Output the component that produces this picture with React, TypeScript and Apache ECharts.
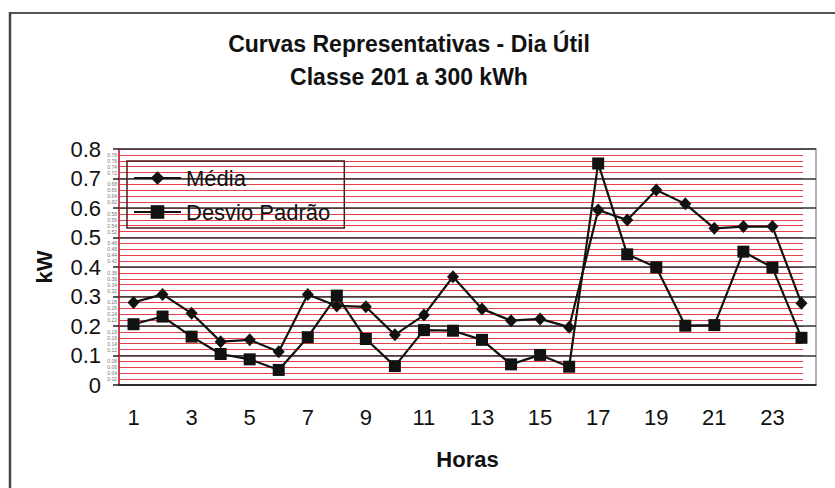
import React, { useEffect, useRef } from "react";
import * as echarts from "echarts";

const hours = ["1","2","3","4","5","6","7","8","9","10","11","12","13","14","15","16","17","18","19","20","21","22","23","24"];
const media = [0.28,0.307,0.243,0.147,0.153,0.113,0.307,0.268,0.265,0.17,0.237,0.367,0.258,0.218,0.224,0.196,0.593,0.559,0.661,0.614,0.531,0.537,0.537,0.277];
const desvio = [0.206,0.232,0.164,0.105,0.087,0.051,0.162,0.303,0.156,0.064,0.186,0.184,0.153,0.07,0.102,0.062,0.751,0.443,0.399,0.201,0.203,0.452,0.398,0.16];
const titleLines = ["Curvas Representativas - Dia Útil", "Classe 201 a 300 kWh"];

const FONT = "'Liberation Sans', Arial, sans-serif";

export default function App() {
  const ref = useRef<HTMLDivElement>(null);
  useEffect(() => {
    const chart = echarts.init(ref.current!, null, { renderer: "svg" });
    chart.setOption({
      animation: false,
      backgroundColor: "#fff",
      textStyle: { fontFamily: FONT },
      title: {
        text: titleLines.join("\n"),
        left: 404,
        textAlign: "center",
        top: 22,
        textStyle: { fontFamily: FONT, fontSize: 23, fontWeight: "bold", color: "#111", lineHeight: 33 },
      },
      graphic: [
        { type: "line", shape: { x1: 9, y1: 13, x2: 835, y2: 13 }, style: { stroke: "#555", lineWidth: 2 } },
        { type: "line", shape: { x1: 10, y1: 12, x2: 10, y2: 488 }, style: { stroke: "#444", lineWidth: 2.5 } },
      ],
      legend: {
        orient: "vertical",
        left: 127,
        top: 161,
        padding: [6, 14, 5, 6],
        itemGap: 12,
        itemWidth: 47,
        itemHeight: 17,
        borderColor: "#4a1a1a",
        borderWidth: 1.5,
        backgroundColor: "transparent",
        textStyle: { fontFamily: FONT, fontSize: 22, color: "#111" },
        data: ["Média", "Desvio Padrão"],
      },
      grid: [
        { left: 119, right: 19, top: 149, bottom: 103, show: true, borderColor: "#999", borderWidth: 1.5 },
        { left: 119, right: 32, top: 149, bottom: 103 },
      ],
      xAxis: [
        {
          type: "category",
          data: hours,
          gridIndex: 0,
          boundaryGap: true,
          name: "Horas",
          nameLocation: "middle",
          nameGap: 63,
          nameTextStyle: { fontFamily: FONT, fontSize: 22, fontWeight: "bold", color: "#111", verticalAlign: "top" },
          axisLine: { lineStyle: { color: "#222", width: 1.5 } },
          axisTick: { alignWithLabel: false, length: 6, lineStyle: { color: "#222", width: 1.5 } },
          axisLabel: { interval: 1, margin: 21, fontSize: 22, color: "#111", fontFamily: FONT },
          splitLine: { show: false },
          z: 3,
        },
        { type: "category", data: hours, gridIndex: 1, show: false },
      ],
      yAxis: [
        {
          type: "value",
          gridIndex: 0,
          min: 0,
          max: 0.8,
          interval: 0.1,
          name: "kW",
          nameLocation: "middle",
          nameGap: 64,
          nameTextStyle: { fontFamily: FONT, fontSize: 22, fontWeight: "bold", color: "#111" },
          axisLine: { show: true, lineStyle: { color: "#cc2233", width: 1.5 } },
          axisTick: { show: true, length: 6, lineStyle: { color: "#222", width: 1.5 } },
          axisLabel: { fontSize: 22, color: "#111", margin: 18, fontFamily: FONT },
          splitLine: { show: true, lineStyle: { color: "#333", width: 1.5 } },
          z: 1,
        },
        {
          type: "value",
          gridIndex: 1,
          min: 0,
          max: 0.8,
          interval: 0.02,
          axisLine: { show: false },
          axisTick: { show: false },
          axisLabel: {
            fontSize: 5,
            color: "#777",
            margin: 2,
            formatter: (v: number) => (Math.round(v * 100) % 10 === 0 ? "" : v.toFixed(2)),
          },
          splitLine: { show: true, lineStyle: { color: "#e5404a", width: 1 } },
          z: 0,
        },
      ],
      series: [
        {
          name: "Média",
          type: "line",
          xAxisIndex: 0,
          yAxisIndex: 0,
          data: media,
          symbol: "diamond",
          symbolSize: [12, 13],
          lineStyle: { color: "#111", width: 2.2 },
          itemStyle: { color: "#111" },
          z: 4,
        },
        {
          name: "Desvio Padrão",
          type: "line",
          xAxisIndex: 0,
          yAxisIndex: 0,
          data: desvio,
          symbol: "rect",
          symbolSize: 12,
          lineStyle: { color: "#111", width: 2.2 },
          itemStyle: { color: "#111" },
          z: 4,
        },
      ],
    });
    return () => chart.dispose();
  }, []);
  return <div ref={ref} style={{ position: "fixed", left: 0, top: 0, width: 835, height: 488 }} />;
}
